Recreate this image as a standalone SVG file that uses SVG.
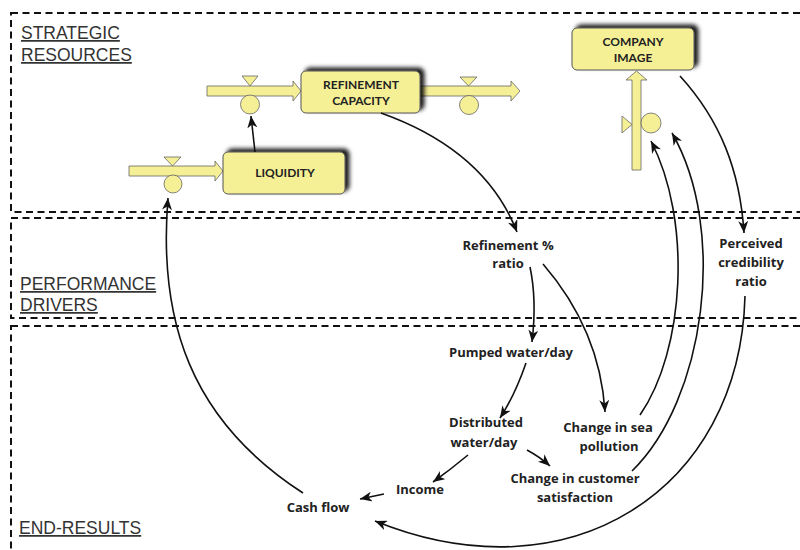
<svg xmlns="http://www.w3.org/2000/svg" width="800" height="550" viewBox="0 0 800 550">
<defs>
<style>
.zone{fill:none;stroke:#111;stroke-width:2;stroke-dasharray:7 4.5}
.sec{font-family:"Liberation Sans",Arial,sans-serif;font-size:17.5px;fill:#333;text-decoration:underline}
.box{fill:#F5F096;stroke:#555;stroke-width:1}
.pipe{fill:#F5F096;stroke:#666;stroke-width:0.8}
.bt{font-family:Lato,"Open Sans",sans-serif;font-weight:bold;font-size:12px;fill:#222;text-anchor:middle}
.vt{font-family:"Open Sans",Lato,sans-serif;font-weight:bold;font-size:13px;fill:#222;text-anchor:middle}
.c{fill:none;stroke:#111;stroke-width:1.6;marker-end:url(#ah)}
</style>
<marker id="ah" markerUnits="userSpaceOnUse" markerWidth="13" markerHeight="10" refX="12" refY="5" orient="auto">
<path d="M0,0 L12,5 L0,10 L3.5,5 z" fill="#111"/>
</marker>
<filter id="sh" x="-20%" y="-30%" width="140%" height="160%">
<feDropShadow dx="4" dy="-3" stdDeviation="2.2" flood-color="#000" flood-opacity="0.9"/>
</filter>
</defs>

<g id="zones">
<rect class="zone" x="11" y="13" width="820" height="199"/>
<rect class="zone" x="11" y="218" width="820" height="100"/>
<rect class="zone" x="11" y="326" width="820" height="240"/>
<text class="sec" x="21" y="39">STRATEGIC</text>
<text class="sec" x="21" y="61">RESOURCES</text>
<text class="sec" x="20" y="290">PERFORMANCE</text>
<text class="sec" x="20" y="311">DRIVERS</text>
<text class="sec" x="19" y="534">END-RESULTS</text>
</g>

<g id="flows">
<polygon class="pipe" points="129,166 215,166 215,161 223,171 215,181 215,176 129,176"/>
<polygon class="pipe" points="164,157 181,157 172.5,166"/>
<circle class="pipe" cx="173" cy="184" r="9"/>
<polygon class="pipe" points="207,86 293,86 293,81 301,91 293,101 293,96 207,96"/>
<polygon class="pipe" points="242,76 258,76 250,86"/>
<circle class="pipe" cx="250" cy="104.5" r="9.5"/>
<polygon class="pipe" points="415,86 511,86 511,81 520,91 511,101 511,96 415,96"/>
<polygon class="pipe" points="460,77 477,77 468.5,86"/>
<circle class="pipe" cx="469" cy="105" r="9.5"/>
<polygon class="pipe" points="632,170 632,80 626,80 636.5,71 647,80 641,80 641,170"/>
<polygon class="pipe" points="622,116 622,133 632,124.5"/>
<circle class="pipe" cx="651" cy="123" r="10"/>
</g>

<g id="refinement-capacity">
<rect class="box" x="301" y="71" width="119" height="42" rx="5" filter="url(#sh)"/>
<text class="bt" x="361" y="89">REFINEMENT</text>
<text class="bt" x="361" y="105">CAPACITY</text>
</g>
<g id="liquidity">
<rect class="box" x="223" y="152" width="122" height="42" rx="5" filter="url(#sh)"/>
<text class="bt" x="285" y="177">LIQUIDITY</text>
</g>
<g id="company-image">
<rect class="box" x="572" y="28" width="122" height="42" rx="5" filter="url(#sh)"/>
<text class="bt" x="633" y="46">COMPANY</text>
<text class="bt" x="633" y="62">IMAGE</text>
</g>

<g id="refinement-ratio"><text class="vt" x="508" y="250">Refinement %</text><text class="vt" x="508" y="268">ratio</text></g>
<g id="perceived-credibility"><text class="vt" x="751" y="248">Perceived</text><text class="vt" x="751" y="267">credibility</text><text class="vt" x="751" y="286">ratio</text></g>
<g id="pumped-water"><text class="vt" x="511" y="357">Pumped water/day</text></g>
<g id="distributed-water"><text class="vt" x="486" y="427">Distributed</text><text class="vt" x="484" y="447">water/day</text></g>
<g id="sea-pollution"><text class="vt" x="608" y="432">Change in sea</text><text class="vt" x="609" y="451">pollution</text></g>
<g id="customer-satisfaction"><text class="vt" x="575" y="483">Change in customer</text><text class="vt" x="575" y="502">satisfaction</text></g>
<g id="income"><text class="vt" x="420" y="494">Income</text></g>
<g id="cash-flow"><text class="vt" x="318" y="512">Cash flow</text></g>

<g id="connectors">
<path class="c" d="M255,152 L251,116"/>
<path class="c" d="M381,113 Q485,150 517,232"/>
<path class="c" d="M530,267 Q537,300 532,342"/>
<path class="c" d="M543,264 Q600,330 605,412"/>
<path class="c" d="M526,363 Q515,395 500,418"/>
<path class="c" d="M468,455 Q450,470 433,482"/>
<path class="c" d="M527,450 Q540,457 550,466"/>
<path class="c" d="M384,494 L360,499"/>
<path class="c" d="M303,493 C190,420 158,320 168,198"/>
<path class="c" d="M640,415 C685,350 692,220 651,141"/>
<path class="c" d="M632,471 C705,400 728,230 672,133"/>
<path class="c" d="M680,76 C720,120 740,170 744,233"/>
<path class="c" d="M745,296 C740,490 570,600 375,521"/>
</g>
</svg>
